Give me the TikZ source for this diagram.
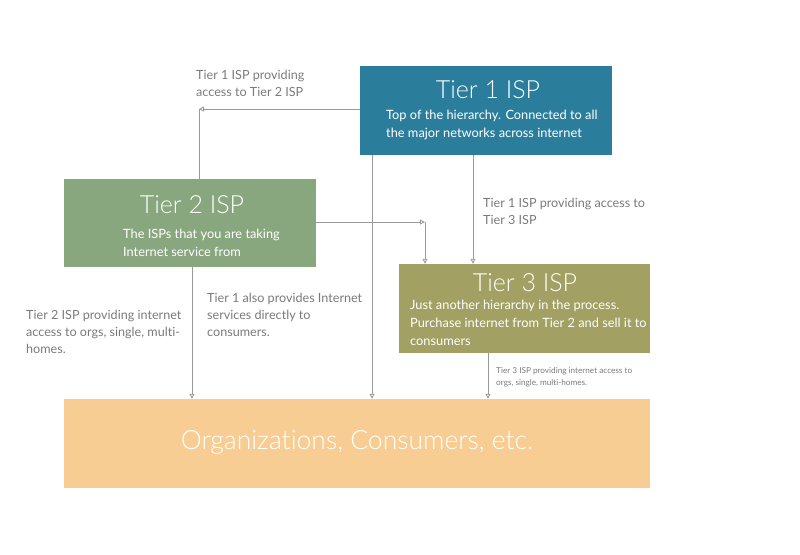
\documentclass[tikz,border=0pt]{standalone}
\usepackage{fontspec}
\setmainfont[Ligatures=NoCommon]{Lato}
\newfontfamily\lightfont[Ligatures=NoCommon]{Lato Light}
\usetikzlibrary{arrows.meta,positioning}

\definecolor{tierone}{HTML}{2A7E9C}
\definecolor{tiertwo}{HTML}{89A77F}
\definecolor{tierthree}{HTML}{A2A062}
\definecolor{orgs}{HTML}{F7CD94}
\definecolor{linkgray}{HTML}{9A9A9A}
\definecolor{notegray}{HTML}{7A7A7A}

\begin{document}
\begin{tikzpicture}[x=1pt,y=-1pt,
	ispbox/.style = {shape=rectangle, draw=none, inner sep=0pt},
	isptitle/.style = {text=white, font=\lightfont\fontsize{25}{29}\selectfont},
	ispdesc/.style = {text=white, align=left, anchor=north west, inner sep=0pt,
		font=\fontsize{12.8}{18}\selectfont},
	note/.style = {text=notegray, align=left, anchor=north west, inner sep=0pt,
		font=\fontsize{12.6}{17}\selectfont},
	link/.style = {draw=linkgray, line width=0.9pt},
	tip/.style = {-{Triangle[open,length=5pt,width=5pt]}}]
	\useasboundingbox (0,0) rectangle (800,554);

	% boxes
	\node[ispbox, fill=tierone, minimum width=252pt, minimum height=89pt] (t1) at (486,110.5) {};
	\node[ispbox, fill=tiertwo, minimum width=252pt, minimum height=88pt] (t2) at (190,223) {};
	\node[ispbox, fill=tierthree, minimum width=251pt, minimum height=89pt] (t3) at (524.5,308.5) {};
	\node[ispbox, fill=orgs, minimum width=586pt, minimum height=89pt] (org) at (357,443.5) {};

	% titles and descriptions
	\node[isptitle] (t1title) at (488,90) {Tier 1 ISP};
	\node[ispdesc] (t1desc) at (386,110) {Top of the hierarchy. Connected to all\\the major networks across internet};
	\node[isptitle] (t2title) at (192,205) {Tier 2 ISP};
	\node[ispdesc] (t2desc) at (123,229) {The ISPs that you are taking\\Internet service from};
	\node[isptitle] (t3title) at (525,283) {Tier 3 ISP};
	\node[ispdesc] (t3desc) at (410,300) {Just another hierarchy in the process.\\Purchase internet from Tier 2 and sell it to\\consumers};
	\node[isptitle, font=\lightfont\fontsize{26.5}{30}\selectfont] (orgtext) at (357,442) {Organizations, Consumers, etc.};

	% corner points
	\coordinate (c12) at (199,109);
	\coordinate (c23) at (425,222);

	% links
	\draw[link, tip] (t1.west |- c12) -- (c12);
	\draw[link] (c12) -- (c12 |- t2.north);
	\draw[link, tip] (t2.east |- c23) -- (c23);
	\draw[link, tip] (c23) -- (c23 |- t3.north);
	\draw[link, tip] (t1.south -| 473,0) -- (t3.north -| 473,0);
	\draw[link, tip] (t1.south -| 372,0) -- (org.north -| 372,0);
	\draw[link, tip] (t2.south -| 192,0) -- (org.north -| 192,0);
	\draw[link, tip] (t3.south -| 488,0) -- (org.north -| 488,0);

	% notes
	\node[note] (n12) at (196,70) {Tier 1 ISP providing\\access to Tier 2 ISP};
	\node[note] (n13) at (483,198) {Tier 1 ISP providing access to\\Tier 3 ISP};
	\node[note] (n2o) at (26,310) {Tier 2 ISP providing internet\\access to orgs, single, multi-\\homes.};
	\node[note] (n1o) at (207,293) {Tier 1 also provides Internet\\services directly to\\consumers.};
	\node[note, font=\fontsize{8.2}{12}\selectfont] (n3o) at (496,367) {Tier 3 ISP providing internet access to\\orgs, single, multi-homes.};
\end{tikzpicture}
\end{document}
